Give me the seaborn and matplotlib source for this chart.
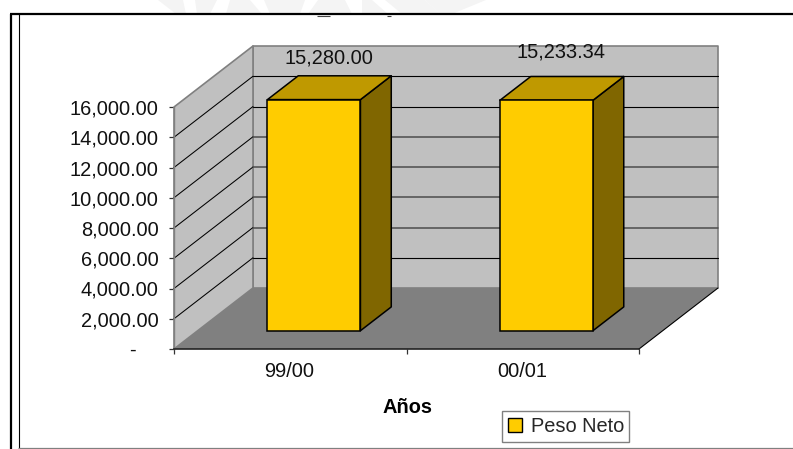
import matplotlib
matplotlib.use("Agg")
import matplotlib.pyplot as plt
from matplotlib.lines import Line2D
from matplotlib.patches import Patch, Polygon
import pandas as pd
import seaborn as sns

categories = ["99/00", "00/01"]
values = [15280.00, 15233.34]
value_labels = ["15,280.00", "15,233.34"]
y_ticks = [0, 2000, 4000, 6000, 8000, 10000, 12000, 14000, 16000]
y_tick_labels = ["-    ", "2,000.00", "4,000.00", "6,000.00", "8,000.00",
                 "10,000.00", "12,000.00", "14,000.00", "16,000.00"]
series_name = "Peso Neto"
x_title = "Años"

W, H = 793, 449
sns.set_theme(style="white")
plt.rcParams["font.family"] = ["Liberation Sans", "DejaVu Sans"]
FS = 14.4

fig = plt.figure(figsize=(W / 100, H / 100), dpi=100, facecolor="white")
# front plane of the oblique box, in pixels
L, R, B, T = 174, 639, 349, 107
ax = fig.add_axes([L / W, 1 - B / H, (R - L) / W, (B - T) / H])
ax.patch.set_alpha(0)

df = pd.DataFrame({"periodo": categories, "peso": values})
sns.barplot(data=df, x="periodo", y="peso", ax=ax, width=0.4, color="#FFCC00",
            saturation=1, edgecolor="black", linewidth=1.1, zorder=5)
ax.set_xlim(-0.5, 1.5)
ax.set_ylim(0, 16000)

# oblique projection: depth 0..1 shifts by (79, 61) pixels
DX = 79 / ((R - L) / 2)
DY = 61 / ((B - T) / 16000)


def ob(x, y, d):
    return (x + d * DX, y + d * DY)


def poly(points, z, fc, ec="none", lw=0.0):
    ax.add_patch(Polygon(points, closed=True, facecolor=fc, edgecolor=ec, linewidth=lw,
                         zorder=z, clip_on=False, joinstyle="round"))


XL, XR = -0.5, 1.5
YT = y_ticks[-1]
poly([ob(XL, 0, 0), ob(XL, 0, 1), ob(XR, 0, 1), ob(XR, 0, 0)], 1, "#808080")
poly([ob(XL, 0, 1), ob(XR, 0, 1), ob(XR, YT, 1), ob(XL, YT, 1)], 1, "#C0C0C0", "#808080", 1.2)
poly([ob(XL, 0, 0), ob(XL, 0, 1), ob(XL, YT, 1), ob(XL, YT, 0)], 1, "#C0C0C0", "#808080", 1.2)

soft = {4000, 6000, 8000, 10000}
for t in y_ticks[1:-1]:
    ax.plot(*zip(ob(XL, t, 0), ob(XL, t, 1)), color="black", lw=0.75, zorder=2, clip_on=False)
    ax.plot(*zip(ob(XL, t, 1), ob(XR, t, 1)), color="#4d4d4d" if t in soft else "black",
            lw=1.1 if t in soft else 0.8, zorder=2, clip_on=False)
ax.plot(*zip(ob(XR, 0, 0), ob(XR, 0, 1)), color="black", lw=0.8, zorder=2, clip_on=False)

# extrude the seaborn bars
D0, D1 = 0.30, 0.69
for bar in ax.patches:
    if not hasattr(bar, "get_width"):
        continue
    x0, w, h = bar.get_x(), bar.get_width(), bar.get_height()
    bx, by = ob(x0, 0, D0)
    bar.set_x(bx)
    bar.set_y(by)
    bar.set_clip_on(False)
    xa, xb = x0, x0 + w
    poly([ob(xb, 0, D0), ob(xb, 0, D1), ob(xb, h, D1), ob(xb, h, D0)], 4, "#806600", "black", 1.1)
    poly([ob(xa, h, D0), ob(xb, h, D0), ob(xb, h, D1), ob(xa, h, D1)], 4, "#BF9900", "black", 1.1)

# value labels
label_nudge = [(1.0, 14.5), (1.0, 18.6)]
for i, (v, lab) in enumerate(zip(values, value_labels)):
    px, py = ob(i, 16000, 0.47)
    ax.annotate(lab, (px, py), xytext=label_nudge[i], textcoords="offset points",
                ha="center", va="center", fontsize=FS, color="#111111", zorder=6,
                annotation_clip=False)

ax.set_yticks(y_ticks)
ax.set_yticklabels(y_tick_labels, fontsize=FS, color="#111111")
for lab in ax.get_yticklabels():
    lab.set_verticalalignment("center_baseline")
ax.set_xticks([-0.5, 0.5, 1.5], minor=False)
ax.set_xticklabels([])
for i, c in enumerate(categories):
    ax.annotate(c, (i, 0), xytext=(-0.5, -16.5), textcoords="offset points", ha="center", va="center",
                fontsize=FS, color="#111111", annotation_clip=False)
ax.tick_params(axis="both", direction="out", length=3.5, width=0.9, color="#333333",
               bottom=True, left=True, pad=7.6)
ax.set_xlabel("")
ax.set_ylabel("")
for s in ("top", "right"):
    ax.spines[s].set_visible(False)
ax.spines["bottom"].set_color("#222222")
ax.spines["bottom"].set_linewidth(1.2)
ax.spines["bottom"].set_zorder(3)
ax.spines["left"].set_color("#808080")
ax.spines["left"].set_linewidth(1.0)
ax.spines["left"].set_zorder(3)

fig.text(407.5 / W, 1 - 407.5 / H, x_title, ha="center", va="center", fontsize=FS,
         fontweight="bold", color="black")

leg = ax.legend(handles=[Patch(facecolor="#FFCC00", edgecolor="black", linewidth=1.0, label=series_name)],
                loc="lower left", bbox_to_anchor=(502 / W, 1 - 442 / H, 127 / W, 33 / H),
                bbox_transform=fig.transFigure, fontsize=FS, frameon=True, fancybox=False,
                framealpha=1, edgecolor="#808080", borderpad=0.3, borderaxespad=0,
                handlelength=0.72, handleheight=0.72, handletextpad=0.45, mode="expand")
leg.get_frame().set_linewidth(1.0)
leg.get_frame().set_facecolor("white")


def fline(xs, ys, color, lw):
    fig.add_artist(Line2D([x / W for x in xs], [1 - y / H for y in ys], color=color, lw=lw,
                          transform=fig.transFigure, solid_capstyle="butt"))


# faint watermark above the frame: slanted strips of the seal
for top0, top1, bot0, bot1 in [(158, 183, 176, 186), (195, 217, 197, 210), (230, 250, 226, 262),
                               (264, 305, 270, 300), (318, 345, 308, 352), (362, 372, 362, 388),
                               (385, 425, 402, 440), (425, 486, 440, 452)]:
    fig.add_artist(Polygon([(top0 / W, 1), (top1 / W, 1), (bot1 / W, 1 - 14 / H), (bot0 / W, 1 - 14 / H)],
                           closed=True, facecolor="#F4F4F4", edgecolor="none",
                           transform=fig.transFigure))
fline([317, 330], [15.8, 15.8], "#444444", 0.8)
fline([387, 391], [15.8, 15.8], "#444444", 0.8)

fline([10, W], [14.3, 14.3], "black", 1.6)
fline([11, 11], [14, H], "black", 1.6)
fline([18.5, 18.5], [14, H], "black", 0.8)
fline([18, W], [448, 448], "#808080", 0.9)

fig.savefig("out.png", dpi=100, facecolor="white")
